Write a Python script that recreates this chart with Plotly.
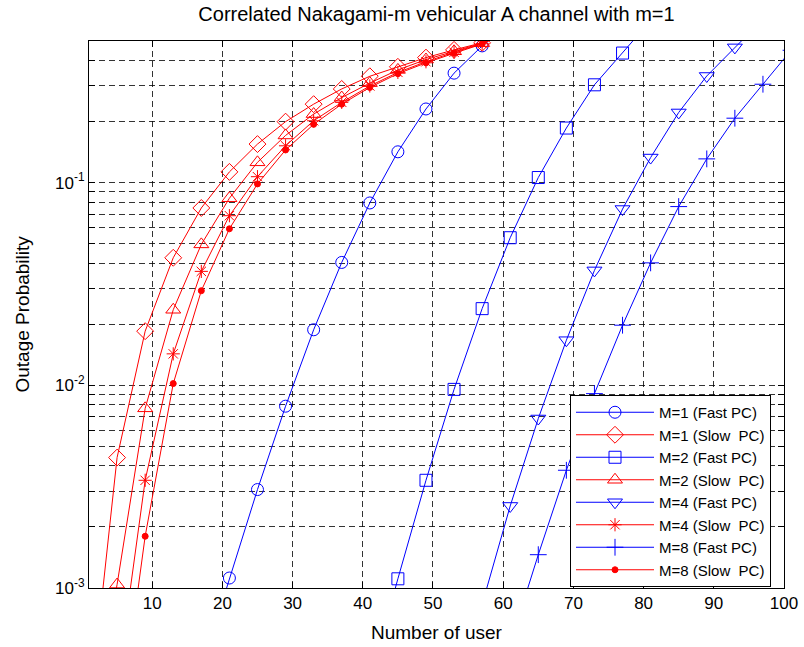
import numpy as np
import plotly.graph_objects as go

# ---------------- data ----------------
fast1_x = [17, 21, 25, 29, 33, 37, 41, 45, 49, 53, 57, 61]
fast1_y = [0.0004, 0.00112, 0.00306, 0.00789, 0.0188, 0.0404, 0.0794, 0.142, 0.231, 0.347, 0.473, 0.62]

slow1_x = [1, 5, 9, 13, 17, 21, 25, 29, 33, 37, 41, 45, 49, 53, 57, 61]
slow1_y = [0.00023, 0.0044, 0.0185, 0.0426, 0.075, 0.113, 0.155, 0.200, 0.244, 0.290, 0.335, 0.373, 0.414, 0.452, 0.49, 0.56]

fast2_x = [41, 45, 49, 53, 57, 61, 65, 69, 73, 77, 81]
fast2_y = [0.00035, 0.00111, 0.0034, 0.00955, 0.0239, 0.0535, 0.106, 0.186, 0.304, 0.436, 0.63]

slow2_x = [1, 5, 9, 13, 17, 21, 25, 29, 33, 37, 41, 45, 49, 53, 57, 61]
slow2_y = [0.0002, 0.00104, 0.0077, 0.0236, 0.0496, 0.0838, 0.126, 0.171, 0.218, 0.263, 0.31, 0.36, 0.405, 0.445, 0.488, 0.56]

fast4_x = [57, 61, 65, 69, 73, 77, 81, 85, 89, 93, 97]
fast4_y = [0.00083, 0.00254, 0.00686, 0.0167, 0.0369, 0.0741, 0.133, 0.222, 0.336, 0.465, 0.64]

slow4_x = [5, 9, 13, 17, 21, 25, 29, 33, 37, 41, 45, 49, 53, 57, 61]
slow4_y = [0.00033, 0.0034, 0.0143, 0.0365, 0.0687, 0.107, 0.152, 0.202, 0.249, 0.30, 0.35, 0.395, 0.44, 0.485, 0.56]

fast8_x = [61, 65, 69, 73, 77, 81, 85, 89, 93, 97, 101]
fast8_y = [0.00053, 0.00146, 0.00381, 0.0091, 0.0198, 0.0402, 0.0762, 0.131, 0.208, 0.306, 0.45]

slow8_x = [5, 9, 13, 17, 21, 25, 29, 33, 37, 41, 45, 49, 53, 57, 61]
slow8_y = [0.00017, 0.0018, 0.0102, 0.0293, 0.0592, 0.0986, 0.145, 0.194, 0.244, 0.295, 0.345, 0.39, 0.435, 0.483, 0.56]

x_ticks = [10, 20, 30, 40, 50, 60, 70, 80, 90, 100]
y_decades = [1e-3, 1e-2, 1e-1]
y_labels = ["10<sup>-3</sup>", "10<sup>-2</sup>", "10<sup>-1</sup>"]

names = ["M=1 (Fast PC)", "M=1 (Slow\u00a0 PC)", "M=2 (Fast PC)", "M=2 (Slow\u00a0 PC)",
         "M=4 (Fast PC)", "M=4 (Slow\u00a0 PC)", "M=8 (Fast PC)", "M=8 (Slow\u00a0 PC)"]

BLUE = "#0000ff"
RED = "#ff0000"

series = [
    (fast1_x, fast1_y, BLUE, "circle-open", 12),
    (slow1_x, slow1_y, RED, "diamond-open", 13),
    (fast2_x, fast2_y, BLUE, "square-open", 12),
    (slow2_x, slow2_y, RED, "triangle-up-open", 13),
    (fast4_x, fast4_y, BLUE, "triangle-down-open", 13),
    (slow4_x, slow4_y, RED, "asterisk-open", 11),
    (fast8_x, fast8_y, BLUE, "cross-thin-open", 12),
    (slow8_x, slow8_y, RED, "circle", 6),
]

fig = go.Figure()
for (xs, ys, col, sym, sz), nm in zip(series, names):
    fig.add_trace(go.Scatter(
        x=xs, y=ys, mode="lines+markers", name=nm,
        line=dict(color=col, width=1),
        marker=dict(symbol=sym, size=sz, color=col, line=dict(color=col, width=1)),
        cliponaxis=True,
    ))

# gridline positions on the log axis (1..9 per decade)
y_grid = []
y_text = []
for d, lab in zip(y_decades, y_labels):
    for k in range(1, 10):
        v = d * k
        if v <= 0.5 + 1e-9:
            y_grid.append(v)
            y_text.append(lab if k == 1 else "")

FONT = "Liberation Sans, Arial, Helvetica, sans-serif"
GRID = "rgba(0,0,0,0.8)"

fig.update_layout(
    width=804, height=647,
    margin=dict(l=89, r=20, t=41, b=59, autoexpand=False),
    paper_bgcolor="white", plot_bgcolor="white",
    font=dict(family=FONT, color="black", size=17),
    title=dict(text="Correlated Nakagami-m vehicular A channel with m=1",
               x=0.5, xanchor="center", xref="paper",
               y=1 - 14 / 647, yanchor="middle", yref="container",
               font=dict(size=20, family=FONT, color="black")),
    showlegend=True,
    legend=dict(x=(570 - 89) / 695, y=(588 - 395) / 547, xanchor="left", yanchor="top",
                bgcolor="white", bordercolor="black", borderwidth=1,
                font=dict(size=15, family=FONT, color="black"),
                itemwidth=78,
                itemsizing="trace", tracegroupgap=0),
)

fig.update_xaxes(
    range=[1, 100], tickvals=x_ticks, ticktext=[str(v) for v in x_ticks],
    showline=True, linecolor="black", linewidth=1, mirror="allticks",
    ticks="inside", ticklen=6, tickcolor="black",
    showgrid=True, gridcolor=GRID, griddash="6px,4px", gridwidth=1,
    zeroline=False, tickfont=dict(size=17, family=FONT, color="black"),
)
fig.update_yaxes(
    type="log", range=[-3, np.log10(0.5)],
    tickvals=y_grid, ticktext=y_text,
    showline=True, linecolor="black", linewidth=1, mirror="allticks",
    ticks="inside", ticklen=6, tickcolor="black",
    showgrid=True, gridcolor=GRID, griddash="6px,4px", gridwidth=1,
    zeroline=False, tickfont=dict(size=17, family=FONT, color="black"),
)

fig.add_annotation(text="Number of user", x=0.5, xref="paper", y=-44 / 547, yref="paper",
                   xanchor="center", yanchor="middle", showarrow=False,
                   font=dict(size=19, family=FONT, color="black"))
fig.add_annotation(text="Outage Probability", x=-67 / 695, xref="paper", y=0.5, yref="paper",
                   xanchor="center", yanchor="middle", showarrow=False, textangle=-90,
                   font=dict(size=19, family=FONT, color="black"))

fig.write_html("out.html",
               config={"displayModeBar": False},
               post_script="document.body.style.margin='0';document.body.style.overflow='hidden';")
